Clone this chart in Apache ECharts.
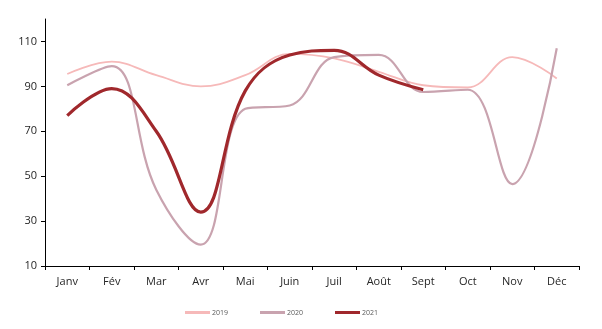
<!DOCTYPE html>
<html>
<head>
<meta charset="utf-8">
<script src="https://cdn.jsdelivr.net/npm/echarts@6/dist/echarts.min.js"></script>
<style>
  html, body { margin: 0; padding: 0; background: #fff; }
  #chart { width: 602px; height: 329px; }
</style>
</head>
<body>
<div id="chart"></div>
<script>
// Monthly index, 2019–2021
const months = ['Janv', 'Fév', 'Mar', 'Avr', 'Mai', 'Juin', 'Juil', 'Août', 'Sept', 'Oct', 'Nov', 'Déc'];
const values2019 = [95.5, 101, 95, 90, 95, 104.5, 102.5, 96.5, 90.5, 89.5, 103, 93.5];
const values2020 = [90.5, 99, 44, 19.5, 80, 81.5, 103, 104, 87.5, 88.5, 46.5, 107];
const values2021 = [77, 89, 70, 34, 88, 104, 106, 95, 88.5];
const yTicks = { min: 10, max: 120, step: 20 };

const labelFont = { fontFamily: 'Open Sans', fontSize: 11, color: '#262626' };

const chart = echarts.init(document.getElementById('chart'), null, { renderer: 'canvas' });
chart.setOption({
  animation: false,
  backgroundColor: '#ffffff',
  grid: { left: 45, right: 23, top: 19, bottom: 63, containLabel: false },
  legend: {
    bottom: 8,
    left: 180,
    itemWidth: 25,
    itemHeight: 3,
    itemGap: 32,
    icon: 'rect',
    textStyle: { fontFamily: 'Open Sans', fontSize: 7, color: '#595959', padding: [0, 0, 0, -3] },
    data: ['2019', '2020', '2021']
  },
  xAxis: {
    type: 'category',
    data: months,
    boundaryGap: true,
    axisLine: { lineStyle: { color: '#000', width: 1 } },
    axisTick: { show: true, alignWithLabel: false, length: 4, lineStyle: { color: '#000' } },
    axisLabel: Object.assign({ margin: 10 }, labelFont),
    splitLine: { show: false }
  },
  yAxis: {
    type: 'value',
    min: yTicks.min,
    max: yTicks.max,
    interval: yTicks.step,
    axisLine: { show: true, lineStyle: { color: '#000', width: 1 } },
    axisTick: { show: true, length: 4, lineStyle: { color: '#000' } },
    axisLabel: Object.assign({ margin: 8, showMaxLabel: false }, labelFont),
    splitLine: { show: false }
  },
  series: [
    {
      name: '2019', type: 'line', data: values2019, smooth: 0.4, symbol: 'none',
      lineStyle: { color: '#f6b9b9', width: 1.8 }, itemStyle: { color: '#f6b9b9' }
    },
    {
      name: '2020', type: 'line', data: values2020, smooth: 0.4, symbol: 'none',
      lineStyle: { color: '#c9a3af', width: 2.2 }, itemStyle: { color: '#c9a3af' }
    },
    {
      name: '2021', type: 'line', data: values2021, smooth: 0.4, symbol: 'none',
      lineStyle: { color: '#a0282c', width: 3.2 }, itemStyle: { color: '#a0282c' }
    }
  ]
});
</script>
</body>
</html>
